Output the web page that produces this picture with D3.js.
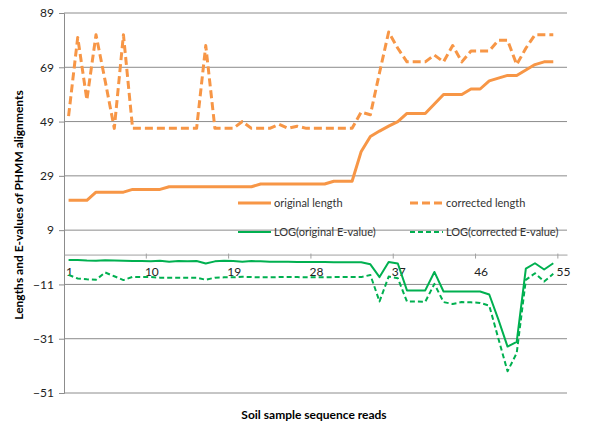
<!DOCTYPE html>
<html>
<head>
<meta charset="utf-8">
<script src="https://d3js.org/d3.v7.min.js"></script>
<style>
  body { margin: 0; background: #fff; }
  text { font-family: Lato, "Open Sans", sans-serif; }
</style>
</head>
<body>
<div id="chart"></div>
<script>
// read values off the reference picture
const categories = d3.range(1, 56);
const tickLabels = [1, 10, 19, 28, 37, 46, 55];
const yTicks = [-51, -31, -11, 9, 29, 49, 69, 89];

const originalLength = [20, 20, 20, 23, 23, 23, 23, 24, 24, 24, 24, 25, 25, 25, 25, 25, 25, 25, 25, 25,
  25, 26, 26, 26, 26, 26, 26, 26, 26, 27, 27, 27, 38, 43.5, 45.5, 47.3, 49, 52, 52, 52,
  55.5, 59, 59, 59, 61, 61, 64, 65, 66, 66, 68, 70, 71, 71];
const correctedLength = [51, 80, 57, 81, 64, 46.5, 81, 46.5, 46.5, 46.5, 46.5, 46.5, 46.5, 46.5, 46.5, 77, 46.5, 46.5, 46.5, 49,
  46.5, 46.5, 46.5, 48, 46.5, 47.3, 46.5, 46.5, 46.5, 46.5, 46.5, 46.5, 52.5, 51.5, 67, 82, 76, 71, 71, 71,
  73.5, 71, 77, 71, 75, 75, 75, 79, 79, 70, 76, 81, 81, 81];
const logOriginalE = [-2, -2, -2.2, -2.3, -2.1, -2.2, -2.3, -2.4, -2.4, -2.5, -2.3, -2.6, -2.4, -2.5, -2.4, -3.3, -2.5, -2.3, -2.4, -2.6,
  -2.4, -2.5, -2.6, -2.6, -2.6, -2.7, -2.7, -2.7, -2.7, -2.8, -2.8, -2.8, -2.8, -3.6, -8.3, -2.7, -3.3, -13.2, -13.2, -13.2,
  -6.4, -13.6, -13.6, -13.6, -13.6, -13.6, -14.7, -24, -33.9, -32.2, -5.2, -3.2, -5.5, -3.2];
const logCorrectedE = [-7.5, -8.8, -9.1, -9.3, -6.6, -8, -9.4, -8.2, -8.3, -8.3, -8.5, -8.5, -8.5, -8.5, -8.5, -9.3, -8.5, -8.4, -8.4, -8.2,
  -8.3, -8.4, -8.4, -8.3, -8.3, -8.3, -8.4, -8.4, -8.4, -8.3, -8.3, -8.3, -8.3, -7.5, -17.3, -8.1, -8.7, -17.3, -17.3, -17.4,
  -10.8, -17.5, -18.2, -17.5, -17.6, -17.8, -18.8, -31, -43, -36.3, -9.3, -6.9, -9.9, -7.1];

const series = [
  {name: "original length", values: originalLength, color: "#F79646", width: 3, dash: null},
  {name: "corrected length", values: correctedLength, color: "#F79646", width: 3, dash: "8,4"},
  {name: "LOG(original E-value)", values: logOriginalE, color: "#00B050", width: 2, dash: null},
  {name: "LOG(corrected E-value)", values: logCorrectedE, color: "#00B050", width: 2, dash: "5,3"}
];

const width = 600, height = 427;
const plot = {left: 64, right: 567, top: 13, bottom: 393};

let svg = d3.select("#chart")
  .append("svg")
  .attr("width", width)
  .attr("height", height);

let x = d3.scaleBand().domain(categories).range([plot.left, plot.right]);
let y = d3.scaleLinear().domain([-51, 89]).range([plot.bottom, plot.top]);
let cx = function(i) { return x(categories[i]) + x.bandwidth() / 2; };

// horizontal gridlines
svg.append("g")
  .selectAll("line")
  .data(yTicks)
  .enter()
  .append("line")
  .attr("x1", plot.left)
  .attr("x2", plot.right)
  .attr("y1", function(d) { return y(d); })
  .attr("y2", function(d) { return y(d); })
  .attr("stroke", "#8c8c8c")
  .attr("stroke-width", 1);

// y axis
let yAxis = svg.append("g")
  .attr("transform", `translate(${plot.left},0)`)
  .call(d3.axisLeft(y).tickValues(yTicks).tickSize(5).tickPadding(5));
yAxis.select(".domain").attr("stroke", "#8c8c8c");
yAxis.selectAll(".tick line").attr("stroke", "#8c8c8c");
yAxis.selectAll("text").style("font-size", "12px").attr("fill", "#222");

// x axis sits at zero
let xAxis = svg.append("g")
  .attr("transform", `translate(0,${y(0)})`)
  .call(d3.axisBottom(x).tickValues([]).tickSizeOuter(0));
xAxis.select(".domain").attr("stroke", "#a0a0a0");

// tick marks every 9 categories, between bands
xAxis.selectAll(".xtick")
  .data([9, 18, 27, 36, 45, 54])
  .enter()
  .append("line")
  .attr("x1", function(d) { return x(categories[d]); })
  .attr("x2", function(d) { return x(categories[d]); })
  .attr("y1", -1)
  .attr("y2", 4)
  .attr("stroke", "#a0a0a0");

xAxis.selectAll(".xlabel")
  .data(tickLabels)
  .enter()
  .append("text")
  .attr("x", function(d) { return x(d) + x.bandwidth() / 2 + 1; })
  .attr("y", 21)
  .attr("text-anchor", "middle")
  .attr("fill", "#222")
  .style("font-size", "12px")
  .text(function(d) { return d; });

// lines
let line = d3.line()
  .x(function(d, i) { return cx(i); })
  .y(function(d) { return y(d); });

svg.append("g")
  .selectAll("path")
  .data(series)
  .enter()
  .append("path")
  .attr("d", function(d) { return line(d.values); })
  .attr("fill", "none")
  .attr("stroke", function(d) { return d.color; })
  .attr("stroke-width", function(d) { return d.width; })
  .attr("stroke-dasharray", function(d) { return d.dash; })
  .attr("stroke-linejoin", "round");

// legend inside the plot
let legendPos = [[238, 203], [410, 203], [238, 232], [410, 232]];
let legend = svg.append("g")
  .selectAll("g")
  .data(series)
  .enter()
  .append("g")
  .attr("transform", function(d, i) { return `translate(${legendPos[i][0]},${legendPos[i][1]})`; });

legend.append("line")
  .attr("x1", 0)
  .attr("x2", 33)
  .attr("stroke", function(d) { return d.color; })
  .attr("stroke-width", function(d) { return d.width; })
  .attr("stroke-dasharray", function(d) { return d.dash; });

legend.append("text")
  .attr("x", 36)
  .attr("y", 4)
  .attr("fill", "#333")
  .style("font-size", "11px")
  .text(function(d) { return d.name; });

// axis titles
svg.append("text")
  .attr("x", 314)
  .attr("y", 419)
  .attr("text-anchor", "middle")
  .style("font-size", "12px")
  .style("font-weight", "bold")
  .text("Soil sample sequence reads");

svg.append("text")
  .attr("transform", "translate(23,205) rotate(-90)")
  .attr("text-anchor", "middle")
  .style("font-size", "12px")
  .style("font-weight", "bold")
  .text("Lengths and E-values of PHMM alignments");
</script>
</body>
</html>
